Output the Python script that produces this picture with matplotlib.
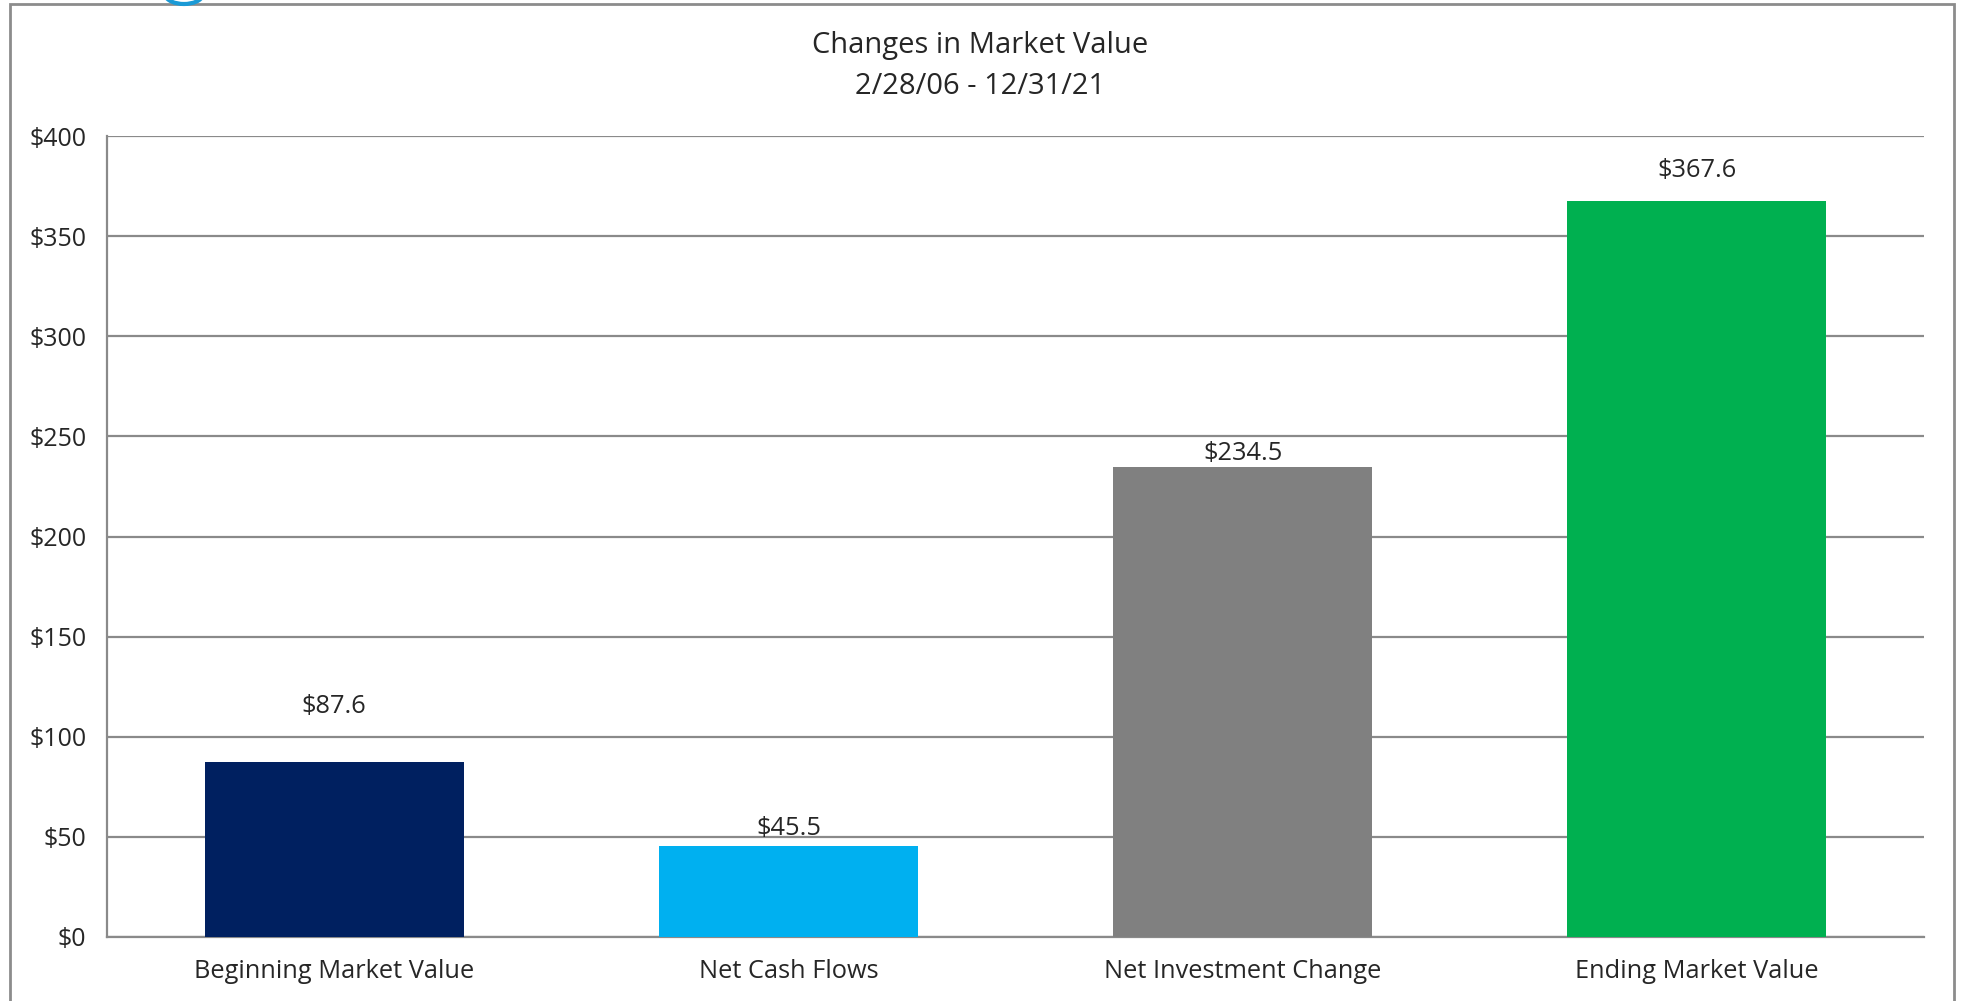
import matplotlib
matplotlib.use("Agg")
import matplotlib.pyplot as plt
from matplotlib.patches import Rectangle, Arc

plt.rcParams['font.family'] = ['Open Sans', 'DejaVu Sans']

categories = ["Beginning Market Value", "Net Cash Flows", "Net Investment Change", "Ending Market Value"]
values = [87.6, 45.5, 234.5, 367.6]
value_labels = ["$87.6", "$45.5", "$234.5", "$367.6"]
yticks = [0, 50, 100, 150, 200, 250, 300, 350, 400]
ytick_labels = ["$0", "$50", "$100", "$150", "$200", "$250", "$300", "$350", "$400"]
title_lines = ["Changes in Market Value", "2/28/06 - 12/31/21"]

colors = ["#002060", "#00B0F0", "#808080", "#00B050"]
label_offsets_px = [55, 17, 14, 30]
W, H = 1961, 1001
text_color = "#262626"
grid_color = "#8a8a8a"
fs = 18.3

fig = plt.figure(figsize=(W / 100, H / 100), dpi=100)
ax = fig.add_axes([107 / W, 1 - 937 / H, (1924 - 107) / W, (937 - 136) / H])

x = list(range(len(categories)))
bars = ax.bar(x, values, width=0.57, color=colors, zorder=3)
ax.set_xlim(-0.5, len(categories) - 0.5)
ax.set_ylim(0, 400)
ax.set_yticks(yticks)
ax.set_yticklabels(ytick_labels, fontsize=18, color=text_color)
ax.set_xticks(x)
ax.set_xticklabels(categories, fontsize=fs, color=text_color)
ax.tick_params(axis='both', length=0)
ax.tick_params(axis='y', pad=15)
ax.tick_params(axis='x', pad=16)
ax.yaxis.grid(True, color=grid_color, linewidth=1.6, zorder=0)
for s in ["top", "right"]:
    ax.spines[s].set_visible(False)
for s in ["left", "bottom"]:
    ax.spines[s].set_color(grid_color)
    ax.spines[s].set_linewidth(1.6)

for b, lab, off in zip(bars, value_labels, label_offsets_px):
    ax.annotate(lab, (b.get_x() + b.get_width() / 2, b.get_height()),
                xytext=(0, off * 72 / 100), textcoords="offset points",
                ha="center", va="center", fontsize=fs, color=text_color)

fig.text(0.5, 1 - 46 / H, title_lines[0], ha="center", va="center", fontsize=21, color=text_color)
fig.text(0.5, 1 - 86 / H, title_lines[1], ha="center", va="center", fontsize=21, color=text_color)

# figure border
fig.patches.append(Rectangle((10 / W, -0.01), (1954 - 10) / W, 1 - 4 / H + 0.01,
                             transform=fig.transFigure, fill=False,
                             edgecolor="#8c8c8c", linewidth=2))
# logo fragment at the top
fig.patches.append(Arc((184 / W, 1 - (-6) / H), 38 / W, 20 / H, theta1=190, theta2=350,
                       transform=fig.transFigure, color="#1a9ad6", linewidth=3))

fig.savefig("out.png", dpi=100)
